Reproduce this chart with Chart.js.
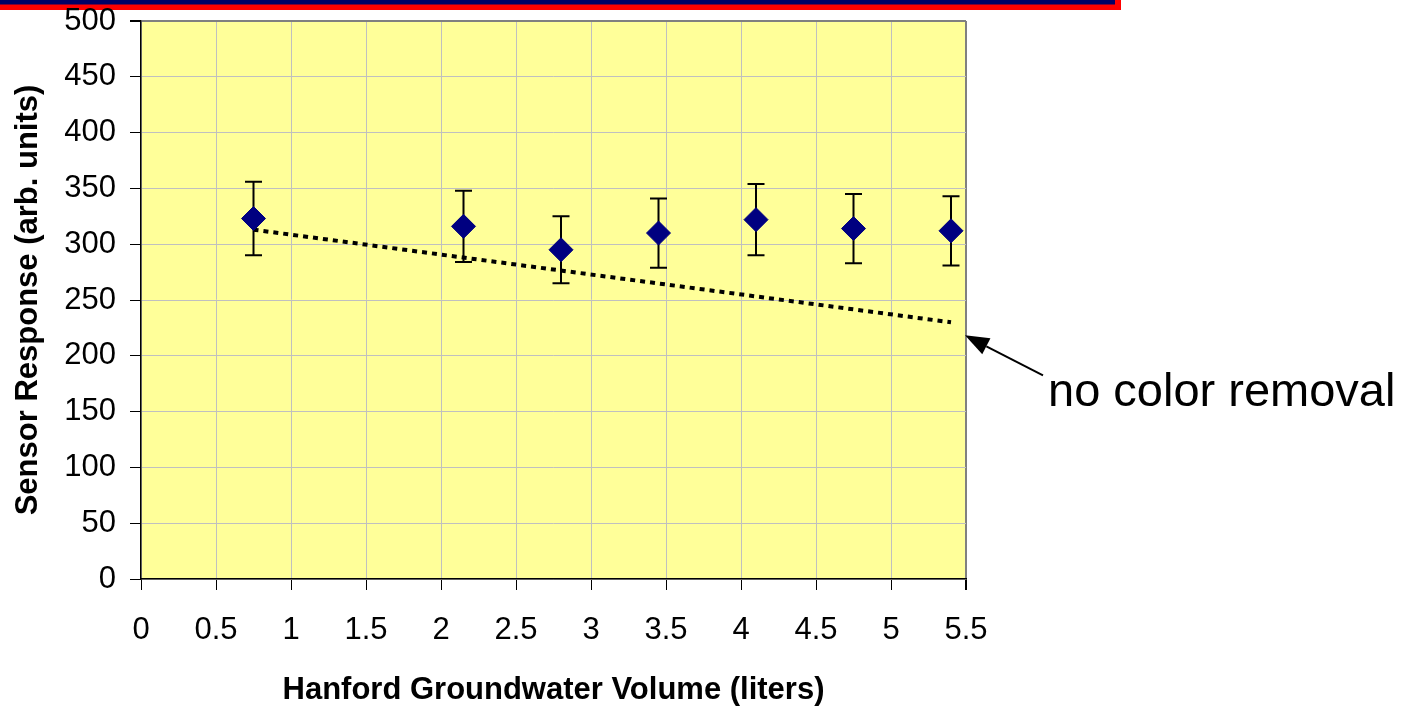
<!DOCTYPE html>
<html>
<head>
<meta charset="utf-8">
<script src="https://cdn.jsdelivr.net/npm/chart.js@4.4.0/dist/chart.umd.min.js"></script>
<style>
  html, body { margin: 0; padding: 0; background: #fff; }
  #wrap { position: relative; width: 1412px; height: 706px; }
</style>
</head>
<body>
<div id="wrap"><canvas id="sensor_chart"></canvas></div>
<script>
// groundwater volume passed (liters) vs. sensor reading, with +/- error
var volumes   = [0.75, 2.15, 2.8, 3.45, 4.1, 4.75, 5.4];
var responses = [323, 316, 295, 310, 322, 314, 312];
var errors    = [33, 32, 30, 31, 32, 31, 31];

// dotted reference trend for the untreated sample
var refVolumes   = [0.75, 5.4];
var refResponses = [313, 230];

var xTicks = [0, 0.5, 1, 1.5, 2, 2.5, 3, 3.5, 4, 4.5, 5, 5.5];
var xTickLabels = ['0', '0.5', '1', '1.5', '2', '2.5', '3', '3.5', '4', '4.5', '5', '5.5'];
var yTicks = [0, 50, 100, 150, 200, 250, 300, 350, 400, 450, 500];

var noteText = 'no color removal';

var FONT = "'Liberation Sans', Arial, sans-serif";

// banner stripes and the yellow plot background
var backdrop = {
  id: 'backdrop',
  beforeDraw: function(chart) {
    var ctx = chart.ctx, a = chart.chartArea;
    ctx.save();
    ctx.fillStyle = '#ff0000';
    ctx.fillRect(0, 0, 1121, 10);
    ctx.fillStyle = '#000066';
    ctx.fillRect(0, 0, 1115, 4.5);
    ctx.fillStyle = '#ffff99';
    ctx.fillRect(a.left, a.top, a.right - a.left, a.bottom - a.top);
    ctx.restore();
  }
};

// vertical error bars with caps, drawn under the markers
var errorBars = {
  id: 'errorBars',
  beforeDatasetsDraw: function(chart) {
    var ctx = chart.ctx, xs = chart.scales.x, ys = chart.scales.y;
    ctx.save();
    ctx.strokeStyle = '#000';
    ctx.lineWidth = 2;
    for (var i = 0; i < volumes.length; i++) {
      var px = xs.getPixelForValue(volumes[i]);
      var top = ys.getPixelForValue(responses[i] + errors[i]);
      var bot = ys.getPixelForValue(responses[i] - errors[i]);
      ctx.beginPath();
      ctx.moveTo(px, top); ctx.lineTo(px, bot);
      ctx.moveTo(px - 8.5, top); ctx.lineTo(px + 8.5, top);
      ctx.moveTo(px - 8.5, bot); ctx.lineTo(px + 8.5, bot);
      ctx.stroke();
    }
    ctx.restore();
  }
};

// arrow + label pointing at the end of the reference trend
var note = {
  id: 'note',
  afterDraw: function(chart) {
    var ctx = chart.ctx, a = chart.chartArea, ys = chart.scales.y;
    var tipX = a.right - 1;
    var tipY = ys.getPixelForValue(refResponses[refResponses.length - 1]) + 13;
    var tailX = tipX + 78, tailY = tipY + 40;
    var ang = Math.atan2(tailY - tipY, tailX - tipX);
    var hl = 24, hw = 9;
    var bx = tipX + Math.cos(ang) * hl, by = tipY + Math.sin(ang) * hl;
    ctx.save();
    ctx.strokeStyle = '#000';
    ctx.fillStyle = '#000';
    ctx.lineWidth = 2;
    ctx.beginPath();
    ctx.moveTo(bx, by); ctx.lineTo(tailX, tailY);
    ctx.stroke();
    ctx.beginPath();
    ctx.moveTo(tipX, tipY);
    ctx.lineTo(bx - Math.sin(ang) * hw, by + Math.cos(ang) * hw);
    ctx.lineTo(bx + Math.sin(ang) * hw, by - Math.cos(ang) * hw);
    ctx.closePath();
    ctx.fill();
    ctx.font = '47px ' + FONT;
    ctx.textBaseline = 'alphabetic';
    ctx.textAlign = 'left';
    ctx.fillText(noteText, tailX + 5, tailY + 31);
    ctx.restore();
  }
};

var points = volumes.map(function(v, i) { return { x: v, y: responses[i] }; });
var refLine = refVolumes.map(function(v, i) { return { x: v, y: refResponses[i] }; });

var ctx = document.getElementById('sensor_chart').getContext('2d');
var chart = new Chart(ctx, {
  type: 'scatter',
  data: {
    datasets: [{
      label: 'Sensor Response',
      data: points,
      pointStyle: 'rectRot',
      pointRadius: 12,
      backgroundColor: '#000080',
      borderColor: '#000080',
      borderWidth: 1
    }, {
      type: 'line',
      label: noteText,
      data: refLine,
      borderColor: '#000',
      borderWidth: 4,
      borderDash: [5, 5],
      borderCapStyle: 'butt',
      pointRadius: 0,
      fill: false,
      tension: 0
    }]
  },
  options: {
    responsive: true,
    maintainAspectRatio: false,
    animation: false,
    events: [],
    layout: { padding: { top: 21, right: 446, left: 0, bottom: 0 } },
    plugins: { legend: { display: false }, tooltip: { enabled: false } },
    scales: {
      x: {
        type: 'linear',
        min: 0, max: 5.5,
        afterBuildTicks: function(s) { s.ticks = xTicks.map(function(v) { return { value: v }; }); },
        afterFit: function(s) { s.height = 127; },
        ticks: {
          font: { family: FONT, size: 31 }, color: '#000', padding: 22, maxRotation: 0, autoSkip: false,
          callback: function(v, i) { return xTickLabels[i]; }
        },
        grid: {
          color: function(c) { return c.tick && c.tick.value === 5.5 ? '#808080' : '#c0c0c0'; },
          lineWidth: function(c) { return c.tick && c.tick.value === 5.5 ? 2 : 1; },
          tickColor: '#000',
          tickLength: 11
        },
        border: { color: '#000', width: 1.5 },
        title: {
          display: true,
          text: 'Hanford Groundwater Volume (liters)',
          font: { family: FONT, size: 31, weight: 'bold', lineHeight: 1 },
          color: '#000',
          padding: { top: 0, bottom: 0 }
        }
      },
      y: {
        type: 'linear',
        min: 0, max: 500,
        afterBuildTicks: function(s) { s.ticks = yTicks.map(function(v) { return { value: v }; }); },
        afterFit: function(s) {
          s.width = 141;
          // let the top label hang above the plot instead of pushing it down
          s.paddingTop = 0;
          s.paddingBottom = 0;
        },
        ticks: { font: { family: FONT, size: 31 }, color: '#000', padding: 14 },
        grid: {
          color: function(c) { return c.tick && c.tick.value === 500 ? '#808080' : '#c0c0c0'; },
          lineWidth: function(c) { return c.tick && c.tick.value === 500 ? 2 : 1; },
          tickColor: '#000',
          tickLength: 11
        },
        border: { color: '#000', width: 1.5 },
        title: {
          display: true,
          text: 'Sensor Response (arb. units)',
          font: { family: FONT, size: 31, weight: 'bold' },
          color: '#000',
          padding: { top: 10, bottom: 0 }
        }
      }
    }
  },
  plugins: [backdrop, errorBars, note]
});
</script>
</body>
</html>
